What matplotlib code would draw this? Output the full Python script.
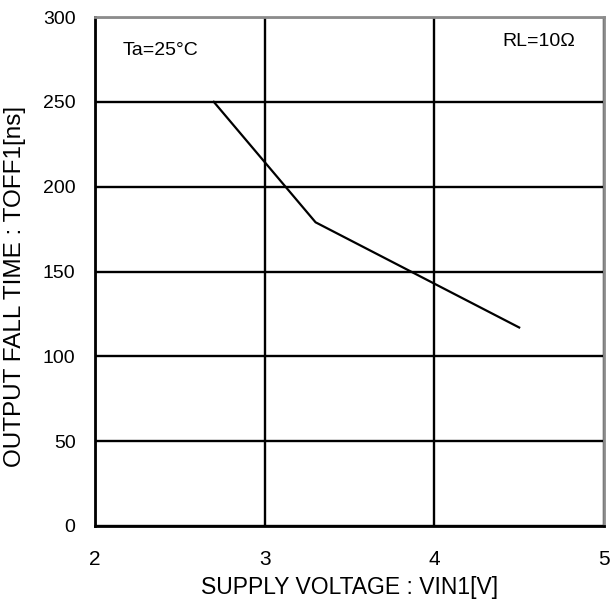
import numpy as np
import matplotlib.pyplot as plt

plt.rcParams['font.family'] = ['Liberation Sans', 'DejaVu Sans']

vin = [2.7, 3.3, 4.5]
toff = [250, 179, 117]
xticks = [2, 3, 4, 5]
yticks = [0, 50, 100, 150, 200, 250, 300]

fig = plt.figure(figsize=(6.12, 6.01), dpi=100)
ax = fig.add_axes([95 / 612, 75 / 601, 509 / 612, 509 / 601])

ax.plot(vin, toff, color="black", linewidth=1.6)

ax.set_xlim(2, 5)
ax.set_ylim(0, 300)
ax.set_xticks(xticks)
ax.set_yticks(yticks)
ax.grid(True, color="black", linewidth=1.7)
ax.tick_params(length=0, labelsize=14)
ax.tick_params(axis="x", pad=17, labelsize=15)
ax.tick_params(axis="y", pad=14)

for side in ["left", "bottom"]:
    ax.spines[side].set_color("black")
    ax.spines[side].set_linewidth(2)
for side in ["top", "right"]:
    ax.spines[side].set_color("#8c8c8c")
    ax.spines[side].set_linewidth(2)

ax.set_xlabel("SUPPLY VOLTAGE : VIN1[V]", fontsize=16.5, labelpad=5)
ax.set_ylabel("OUTPUT FALL TIME : TOFF1[ns]", fontsize=17.5)
ax.yaxis.set_label_coords(-0.136, 0.47)

ax.text(2.165, 280.5, "Ta=25°C", fontsize=14, va="center", ha="left")
ax.text(4.83, 285.5, "RL=10Ω", fontsize=14, va="center", ha="right")

fig.savefig("out.png", dpi=100)
